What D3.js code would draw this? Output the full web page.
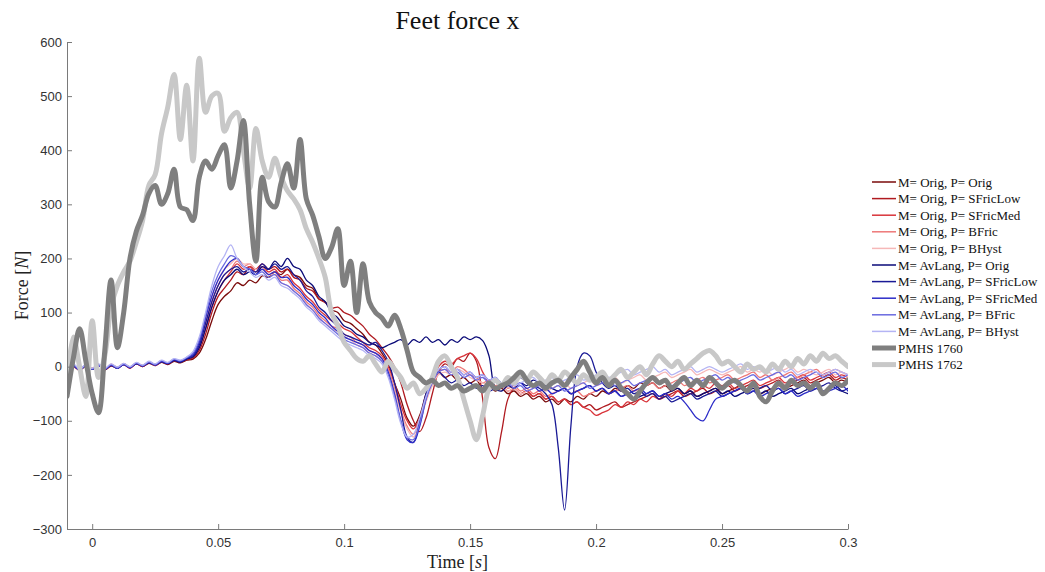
<!DOCTYPE html>
<html>
<head>
<meta charset="utf-8">
<script src="https://cdn.jsdelivr.net/npm/d3@7"></script>
<style>
  html, body { margin: 0; padding: 0; background: #fff; }
  svg { display: block; }
</style>
</head>
<body>
<div id="chart"></div>
<script>
// Sample grid: -0.01 s to 0.3 s every 2.5 ms (125 samples)
const timeStart = -0.01;
const timeStep = 0.0025;

const xTicks = [0, 0.05, 0.1, 0.15, 0.2, 0.25, 0.3];
const xTickLabels = ['0', '0.05', '0.1', '0.15', '0.2', '0.25', '0.3'];
const yTicks = [-300, -200, -100, 0, 100, 200, 300, 400, 500, 600];

const seriesNames = [
  'M= Orig, P= Orig',
  'M= Orig, P= SFricLow',
  'M= Orig, P= SFricMed',
  'M= Orig, P= BFric',
  'M= Orig, P= BHyst',
  'M= AvLang, P= Orig',
  'M= AvLang, P= SFricLow',
  'M= AvLang, P= SFricMed',
  'M= AvLang, P= BFric',
  'M= AvLang, P= BHyst',
  'PMHS 1760',
  'PMHS 1762'
];

const origOrig = [
  -3, 2, -6, 1, -4, 3, -5, 2, -3, 4,
  -2, 5, 0, 6, 2, 8, 4, 10, 7, 12,
  14, 25, 50, 85, 115, 130, 140, 155, 150, 160,
  155, 168, 165, 175, 170, 180, 170, 165, 150, 145,
  125, 120, 105, 100, 85, 80, 70, 60, 45, 40,
  25, 5, -30, -60, -95, -110, -90, -50, -20, -10,
  -20, -15, -25, -20, -30, -25, -40, -35, -45, -40,
  -50, -45, -55, -50, -60, -55, -65, -60, -70, -60,
  -65, -55, -60, -50, -55, -45, -50, -40, -45, -35,
  -40, -30, -35, -30, -40, -35, -45, -40, -50, -45,
  -55, -50, -45, -40, -50, -45, -40, -35, -45, -40,
  -50, -45, -40, -35, -40, -35, -30, -25, -35, -30,
  -25, -20, -30, -25, -30
];

const origSFricLow = [
  -5, 0, -7, 2, -3, 4, -6, 1, -2, 5,
  -1, 6, 1, 7, 3, 9, 5, 11, 8, 13,
  16, 30, 60, 100, 130, 145, 160, 175, 170, 185,
  180, 190, 180, 185, 175, 180, 165, 160, 145, 140,
  125, 118, 108, 110, 100, 95, 85, 75, 60, 50,
  35, 20, 0, -30, -70, -100, -120, -95, -50, -10,
  5, 0, 15, 10, 25, 10, -60, -150, -170, -120,
  -60, -40, -50, -45, -55, -50, -60, -55, -65, -60,
  -70, -65, -75, -70, -80, -75, -70, -65, -75, -70,
  -65, -60, -55, -50, -60, -55, -50, -45, -55, -50,
  -45, -40, -50, -45, -40, -35, -45, -40, -35, -30,
  -40, -35, -30, -25, -35, -30, -25, -20, -30, -25,
  -20, -15, -25, -20, -25
];

const origSFricMed = [
  -4, 1, -5, 3, -4, 2, -6, 3, -2, 4,
  -3, 5, 0, 7, 2, 9, 5, 11, 9, 14,
  18, 35, 70, 110, 140, 160, 175, 190, 180, 185,
  175, 185, 175, 180, 165, 170, 155, 145, 130, 120,
  105, 95, 85, 80, 70, 65, 55, 45, 35, 30,
  20, 0, -30, -70, -100, -115, -95, -60, -25, 0,
  10, 5, 15, 20, 25, 15, -10, -30, -40, -35,
  -45, -40, -50, -45, -55, -50, -60, -55, -65, -60,
  -70, -65, -75, -80, -90, -85, -80, -70, -75, -65,
  -70, -60, -65, -55, -60, -50, -55, -45, -50, -40,
  -45, -35, -40, -30, -35, -30, -40, -35, -30, -25,
  -35, -30, -25, -20, -30, -25, -20, -15, -25, -20,
  -15, -10, -20, -15, -20
];

const origBFric = [
  -2, 3, -5, 2, -5, 3, -4, 4, -2, 5,
  -1, 6, 2, 8, 3, 10, 6, 12, 10, 15,
  20, 40, 80, 120, 150, 170, 180, 195, 185, 190,
  180, 185, 170, 175, 160, 160, 145, 135, 120, 110,
  95, 85, 75, 70, 60, 55, 45, 40, 30, 25,
  15, -5, -40, -80, -110, -125, -100, -60, -30, -10,
  -5, -10, 0, -5, -15, -20, -30, -25, -35, -30,
  -40, -35, -45, -40, -50, -45, -55, -50, -45, -40,
  -50, -45, -55, -50, -45, -40, -50, -45, -40, -35,
  -45, -40, -35, -30, -40, -35, -30, -25, -35, -30,
  -25, -20, -30, -25, -20, -15, -25, -20, -15, -10,
  -20, -15, -25, -20, -15, -10, -20, -15, -10, -5,
  -15, -10, -5, -10, -15
];

const origBHyst = [
  -1, 4, -4, 3, -3, 4, -3, 5, -1, 6,
  0, 7, 3, 9, 4, 11, 7, 13, 11, 16,
  22, 45, 90, 130, 160, 180, 190, 200, 190, 190,
  180, 180, 170, 170, 155, 150, 140, 130, 115, 105,
  90, 80, 70, 65, 55, 50, 40, 35, 25, 20,
  10, -10, -45, -85, -115, -130, -105, -65, -35, -15,
  -10, -15, -5, -10, -20, -25, -30, -35, -40, -35,
  -45, -40, -50, -45, -40, -35, -45, -40, -35, -30,
  -40, -35, -30, -25, -35, -30, -25, -20, -30, -25,
  -20, -15, -25, -20, -15, -10, -20, -15, -10, -5,
  -15, -10, -5, -10, -15, -10, -5, 0, -10, -5,
  -10, -5, -15, -10, -5, 0, -10, -5, -10, -15,
  -10, -5, -15, -10, -20
];

const avOrig = [
  -3, 3, -6, 2, -5, 3, -5, 3, -3, 5,
  -2, 6, 1, 7, 3, 9, 5, 11, 8, 14,
  18, 35, 70, 110, 140, 160, 170, 180, 170, 175,
  170, 185, 180, 195, 185, 200, 185, 180, 160, 150,
  130, 120, 100, 90, 75, 70, 60, 55, 45, 40,
  35, 40, 45, 50, 40, 50, 45, 55, 45, 50,
  40, 50, 45, 55, 50, 55, 48, 20, -40, -45,
  -35, -40, -30, -35, -25, -30, -35, -40, -45, -40,
  -50, -45, -40, -35, -45, -40, -50, -45, -55, -50,
  -60, -55, -50, -45, -55, -50, -45, -40, -50, -45,
  -55, -50, -45, -40, -50, -45, -55, -50, -45, -40,
  -50, -45, -55, -50, -45, -40, -50, -45, -40, -35,
  -45, -40, -35, -45, -50
];

const avSFricLow = [
  -4, 2, -5, 3, -4, 4, -4, 2, -2, 4,
  -1, 5, 2, 8, 4, 10, 6, 12, 9, 15,
  20, 40, 80, 120, 150, 170, 180, 185, 175, 180,
  175, 190, 180, 190, 180, 185, 170, 160, 140, 130,
  110, 100, 85, 75, 60, 55, 50, 45, 40, 45,
  30, 10, -30, -80, -130, -140, -100, -50, -20, -10,
  -20, -30, -25, -35, -30, -40, -35, -45, -40, -35,
  -30, -25, -20, -30, -35, -40, -50, -70, -150, -265,
  -110, 0, 25, 20, -10, -30, -40, -35, -45, -40,
  -50, -45, -55, -50, -60, -55, -65, -60, -55, -50,
  -60, -55, -50, -45, -55, -50, -45, -40, -50, -45,
  -40, -35, -45, -40, -50, -45, -40, -35, -45, -40,
  -35, -30, -40, -45, -40
];

const avSFricMed = [
  -5, 1, -6, 2, -5, 2, -5, 3, -3, 4,
  -2, 6, 1, 8, 3, 10, 6, 13, 10, 16,
  22, 45, 90, 130, 160, 180, 195, 200, 185, 180,
  170, 180, 170, 175, 165, 165, 150, 140, 125, 115,
  100, 90, 75, 65, 55, 50, 45, 40, 30, 25,
  15, -10, -50, -100, -135, -140, -110, -60, -25, -5,
  0, -10, -5, -15, -10, -20, -15, -25, -20, -30,
  -25, -35, -30, -40, -35, -45, -40, -50, -45, -40,
  -50, -45, -40, -35, -45, -40, -50, -45, -55, -50,
  -45, -40, -50, -45, -55, -50, -60, -55, -65, -80,
  -95, -100, -80, -60, -55, -50, -45, -40, -50, -45,
  -55, -50, -45, -40, -50, -45, -55, -50, -45, -40,
  -50, -45, -40, -35, -45
];

const avBFric = [
  -2, 4, -5, 3, -4, 3, -4, 4, -2, 5,
  -1, 7, 2, 9, 4, 11, 7, 14, 11, 17,
  25, 50, 95, 140, 170, 190, 205, 200, 185, 180,
  170, 175, 165, 170, 155, 150, 140, 130, 115, 105,
  90, 80, 70, 60, 50, 45, 40, 35, 25, 20,
  10, -15, -55, -100, -130, -135, -105, -60, -30, -10,
  -5, -15, -10, -20, -15, -25, -20, -30, -25, -35,
  -30, -40, -35, -45, -40, -35, -30, -40, -35, -45,
  -40, -35, -30, -40, -35, -30, -25, -35, -30, -25,
  -35, -30, -25, -20, -30, -25, -35, -30, -25, -20,
  -30, -25, -20, -15, -25, -20, -30, -25, -20, -15,
  -25, -20, -15, -10, -20, -15, -25, -20, -15, -10,
  -20, -15, -10, -20, -15
];

const avBHyst = [
  -1, 5, -4, 4, -3, 5, -3, 5, -1, 6,
  0, 8, 3, 10, 5, 12, 8, 15, 12, 18,
  28, 55, 100, 150, 185, 205, 225, 200, 185, 175,
  165, 170, 160, 165, 150, 145, 135, 125, 110, 100,
  85, 75, 65, 55, 45, 40, 35, 30, 20, 15,
  5, -20, -60, -105, -130, -125, -95, -55, -25, -5,
  0, -10, -5, -15, -10, -20, -15, -25, -20, -30,
  -25, -35, -30, -25, -20, -30, -25, -20, -30, -25,
  -20, -15, -25, -20, -15, -10, -20, -15, -10, -5,
  -15, -10, -5, 0, -10, -5, -15, -10, -5, 0,
  -10, -5, 0, -5, -10, -5, 0, 5, -5, 0,
  -5, -10, -5, 0, -10, -5, -15, -10, -5, -10,
  -15, -10, -5, -10, -15
];

const pmhs1760 = [
  -55, 15, 70, 10, -50, -85, 30, 160, 35, 100,
  200, 250, 280, 320, 335, 300, 320, 365, 295, 290,
  270, 350, 380, 365, 390, 410, 330, 380, 455, 300,
  195, 350, 305, 295, 340, 375, 330, 420, 310, 280,
  240, 200, 220, 255, 150, 195, 100, 190, 120, 100,
  90, 75, 95, 70, 30, -10, -20, -30, -25, -35,
  -30, -40, -35, -45, -40, -35, -45, -30, -40, -35,
  -30, -20, -10, -25, -35, -30, -40, -30, -25, -35,
  -20, -5, 10, -10, -30, -20, -35, -25, -40, -50,
  -60, -45, -30, -20, -30, -25, -40, -30, -20, -35,
  -25, -35, -20, -30, -40, -30, -25, -35, -45, -30,
  -55, -65, -45, -30, -40, -25, -35, -30, -40, -30,
  -50, -40, -30, -35, -25
];

const pmhs1762 = [
  -30, 55, 0, -55, 85, -20, 20, 110, 150, 175,
  195, 230, 270, 335, 355, 430, 480, 540, 420, 520,
  380, 570, 470, 500, 505, 435, 460, 470, 400, 330,
  440, 380, 350, 385, 350, 325, 310, 290, 255, 230,
  200, 165, 100, 75, 45, 30, 15, 10, 20, 5,
  -10, 10, -5, -20, -40, -30, -50, -40, -20, 10,
  20, 0, -20, -60, -100, -135, -90, -40, -25, -35,
  -20, -30, -15, -25, -10, -20, -30, -15, -25, -10,
  -20, -30, -15, -25, -20, -10, -25, -15, -5, -20,
  -10, 0, -15, 5, 20, 10, 0, 10, -5, 5,
  15, 25, 30, 20, 5, 10, 0, -10, 5, -5,
  0, -10, 5, -5, 10, 0, 15, 5, 20, 10,
  25, 15, 20, 10, 0
];

const seriesValues = [
  origOrig, origSFricLow, origSFricMed, origBFric, origBHyst,
  avOrig, avSFricLow, avSFricMed, avBFric, avBHyst,
  pmhs1760, pmhs1762
];

const seriesColors = [
  '#7a0a0a', '#b01a20', '#d9343a', '#ee7878', '#f6b8b8',
  '#0a0a78', '#1a1a96', '#2c2cc8', '#6a6ae0', '#b4b4f4',
  '#7f7f7f', '#c8c8c8'
];
const seriesWidths = [1.3, 1.3, 1.3, 1.3, 1.3, 1.3, 1.3, 1.3, 1.3, 1.3, 5, 5];

function drawChart() {
  const width = 1045;
  const height = 572;
  const plot = { left: 67, right: 848, top: 42, bottom: 529 };
  const serif = '"Liberation Serif", "DejaVu Serif", serif';
  const sans = '"Liberation Sans", Arial, Helvetica, sans-serif';

  const svg = d3.select('#chart')
    .append('svg')
    .attr('width', width)
    .attr('height', height)
    .style('background', '#fff');

  const xScale = d3.scaleLinear()
    .domain([-0.01, 0.3])
    .range([plot.left, plot.right]);

  const yScale = d3.scaleLinear()
    .domain([-300, 600])
    .range([plot.bottom, plot.top]);

  // Clip so thick lines stay inside the axes box
  svg.append('clipPath')
    .attr('id', 'plot-clip')
    .append('rect')
    .attr('x', plot.left)
    .attr('y', plot.top - 5)
    .attr('width', plot.right - plot.left)
    .attr('height', plot.bottom - plot.top + 5);

  const line = d3.line()
    .x(d => xScale(d.t))
    .y(d => yScale(d.v))
    .curve(d3.curveCatmullRom.alpha(0.5));

  const linesGroup = svg.append('g').attr('clip-path', 'url(#plot-clip)');

  // Simulations first, then PMHS 1762, then PMHS 1760 on top
  const drawOrder = [0, 1, 2, 3, 4, 5, 6, 7, 8, 9, 11, 10];
  drawOrder.forEach(i => {
    const points = seriesValues[i].map((v, k) => ({ t: timeStart + k * timeStep, v }));
    linesGroup.append('path')
      .datum(points)
      .attr('fill', 'none')
      .attr('stroke', seriesColors[i])
      .attr('stroke-width', seriesWidths[i])
      .attr('stroke-linejoin', 'round')
      .attr('stroke-linecap', 'round')
      .attr('d', line);
  });

  // Axes (MATLAB style: ticks pointing inward, no box)
  const xAxis = svg.append('g')
    .attr('transform', `translate(0,${plot.bottom})`)
    .call(d3.axisBottom(xScale)
      .tickValues(xTicks)
      .tickFormat((d, i) => xTickLabels[i])
      .tickSizeInner(-5)
      .tickSizeOuter(0)
      .tickPadding(9));

  const yAxis = svg.append('g')
    .attr('transform', `translate(${plot.left},0)`)
    .call(d3.axisLeft(yScale)
      .tickValues(yTicks)
      .tickSizeInner(-5)
      .tickSizeOuter(0)
      .tickPadding(5));

  [xAxis, yAxis].forEach(axis => {
    axis.select('.domain').attr('stroke', '#7a7a7a');
    axis.selectAll('.tick line').attr('stroke', '#7a7a7a');
    axis.selectAll('.tick text')
      .attr('fill', '#333')
      .style('font-family', sans)
      .style('font-size', '13px');
  });

  // Title and axis labels
  svg.append('text')
    .attr('x', (plot.left + plot.right) / 2)
    .attr('y', 29)
    .attr('text-anchor', 'middle')
    .style('font-family', serif)
    .style('font-size', '26px')
    .attr('fill', '#111')
    .text('Feet force x');

  const xLabel = svg.append('text')
    .attr('x', (plot.left + plot.right) / 2)
    .attr('y', 568)
    .attr('text-anchor', 'middle')
    .style('font-family', serif)
    .style('font-size', '18px')
    .attr('fill', '#222');
  xLabel.append('tspan').text('Time [');
  xLabel.append('tspan').style('font-style', 'italic').text('s');
  xLabel.append('tspan').text(']');

  const yLabel = svg.append('text')
    .attr('transform', `translate(28,${(plot.top + plot.bottom) / 2}) rotate(-90)`)
    .attr('text-anchor', 'middle')
    .style('font-family', serif)
    .style('font-size', '18px')
    .attr('fill', '#222');
  yLabel.append('tspan').text('Force [');
  yLabel.append('tspan').style('font-style', 'italic').text('N');
  yLabel.append('tspan').text(']');

  // Legend
  const legendTop = 182;
  const legendStep = 16.6;
  const legend = svg.append('g');
  seriesNames.forEach((name, i) => {
    const ly = legendTop + i * legendStep;
    legend.append('line')
      .attr('x1', 872)
      .attr('x2', 896)
      .attr('y1', ly)
      .attr('y2', ly)
      .attr('stroke', seriesColors[i])
      .attr('stroke-width', i >= 10 ? 5 : 1.5);
    legend.append('text')
      .attr('x', 898)
      .attr('y', ly)
      .attr('dy', '0.35em')
      .style('font-family', serif)
      .style('font-size', '13px')
      .attr('fill', '#111')
      .text(name);
  });
}

drawChart();
</script>
</body>
</html>
